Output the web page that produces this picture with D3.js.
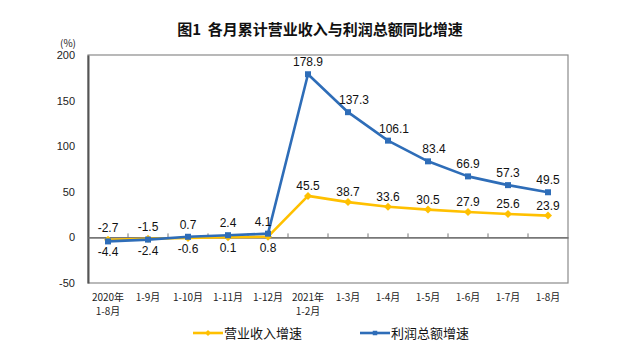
<!DOCTYPE html>
<html>
<head>
<meta charset="utf-8">
<script src="https://cdn.jsdelivr.net/npm/d3@7"></script>
<style>
  html, body { margin: 0; padding: 0; background: #fff; }
  svg { display: block; }
</style>
</head>
<body>
<svg id="chart" width="640" height="348"></svg>
<script>
// Monthly cumulative year-on-year growth (%), Aug 2020 – Aug 2021
const categories = [
  ["2020年", "1-8月"], ["1-9月"], ["1-10月"], ["1-11月"], ["1-12月"],
  ["2021年", "1-2月"], ["1-3月"], ["1-4月"], ["1-5月"], ["1-6月"], ["1-7月"], ["1-8月"]
];
const revenueGrowth = [-2.7, -1.5, -0.6, 0.1, 0.8, 45.5, 38.7, 33.6, 30.5, 27.9, 25.6, 23.9];
const profitGrowth  = [-4.4, -2.4, 0.7, 2.4, 4.1, 178.9, 137.3, 106.1, 83.4, 66.9, 57.3, 49.5];
const yTicks = [-50, 0, 50, 100, 150, 200];

const series = [
  { name: "营业收入增速", values: revenueGrowth, color: "#FFC000", marker: "diamond" },
  { name: "利润总额增速", values: profitGrowth,  color: "#2E6DB8", marker: "square" }
];

// plain hyphen-minus for negative numbers
const fmt1 = v => v.toFixed(1);

const svg = d3.select("#chart");
const plot = { left: 88, right: 568, top: 55, bottom: 283 };

const x = d3.scaleBand()
  .domain(d3.range(categories.length))
  .range([plot.left, plot.right]);
const y = d3.scaleLinear().domain([-50, 200]).range([plot.bottom, plot.top]);
const cx = i => x(i) + x.bandwidth() / 2;

// Title
svg.append("text")
  .attr("x", 320).attr("y", 35)
  .attr("text-anchor", "middle")
  .attr("font-family", "'Noto Sans CJK SC', sans-serif")
  .attr("font-size", 15).attr("font-weight", "bold")
  .attr("fill", "#111")
  .attr("xml:space", "preserve")
  .text("图1  各月累计营业收入与利润总额同比增速");

// Unit label
svg.append("text")
  .attr("x", 68).attr("y", 47)
  .attr("text-anchor", "middle")
  .attr("font-family", "'Noto Sans CJK SC', sans-serif")
  .attr("font-size", 10).attr("fill", "#222")
  .text("(%)");

// Plot frame
svg.append("rect")
  .attr("x", plot.left).attr("y", plot.top)
  .attr("width", plot.right - plot.left).attr("height", plot.bottom - plot.top)
  .attr("fill", "none").attr("stroke", "#8a8a8a").attr("stroke-width", 1.2);

// Y axis
const yAxis = d3.axisLeft(y).tickValues(yTicks).tickSize(0).tickPadding(13)
  .tickFormat(d => String(d));
const yG = svg.append("g").attr("transform", `translate(${plot.left},0)`).call(yAxis);
yG.select(".domain").attr("stroke", "#555").attr("stroke-width", 2);
yG.selectAll("text")
  .attr("font-family", "'Liberation Sans', Arial, sans-serif")
  .attr("font-size", 11).attr("fill", "#222");

// Zero line with category boundary ticks
const zeroAxis = d3.axisBottom(x).tickSize(0).tickFormat("");
const zG = svg.append("g").attr("transform", `translate(0,${y(0)})`).call(zeroAxis);
zG.select(".domain").attr("stroke", "#777").attr("stroke-width", 1.6);
zG.selectAll(".tick").remove();
zG.selectAll("line.bound")
  .data(d3.range(1, categories.length))
  .join("line")
  .attr("class", "bound")
  .attr("x1", i => x(i)).attr("x2", i => x(i))
  .attr("y1", 0).attr("y2", -4)
  .attr("stroke", "#777").attr("stroke-width", 1);

// Category labels
const xl = svg.append("g")
  .attr("font-family", "'Noto Sans CJK SC', sans-serif")
  .attr("font-size", 10).attr("fill", "#222")
  .attr("text-anchor", "middle");
categories.forEach((lines, i) => {
  lines.forEach((t, k) => {
    xl.append("text").attr("x", cx(i)).attr("y", 301 + k * 14).text(t);
  });
});

// Markers
function drawMarker(g, type, color, px, py, r) {
  if (type === "diamond") {
    g.append("path")
      .attr("d", `M${px},${py - r}L${px + r},${py}L${px},${py + r}L${px - r},${py}Z`)
      .attr("fill", color);
  } else {
    const h = r * 0.75;
    g.append("rect")
      .attr("x", px - h).attr("y", py - h).attr("width", 2 * h).attr("height", 2 * h)
      .attr("fill", color);
  }
}

const line = d3.line().x((d, i) => cx(i)).y(d => y(d));

series.forEach(s => {
  const g = svg.append("g");
  g.append("path")
    .datum(s.values)
    .attr("d", line)
    .attr("fill", "none")
    .attr("stroke", s.color)
    .attr("stroke-width", 2.6)
    .attr("stroke-linejoin", "round");
  s.values.forEach((v, i) => drawMarker(g, s.marker, s.color, cx(i), y(v), 4));
});

// Value labels: where the two series run close together, the higher one
// is labelled above and the lower one below. Labels next to a steep
// segment are nudged sideways, away from the line.
const labels = svg.append("g")
  .attr("font-family", "'Liberation Sans', Arial, sans-serif")
  .attr("font-size", 12).attr("fill", "#111")
  .attr("text-anchor", "middle");
series.forEach((s, si) => {
  const vals = s.values;
  const other = series[1 - si].values;
  vals.forEach((v, i) => {
    const close = Math.abs(v - other[i]) < 10;
    const below = close && v < other[i];
    const dy = below ? 15 : (si === 0 && !close ? -6 : -8);
    let dx = 0;
    if (!below) {
      if (i < vals.length - 1 && vals[i + 1] - v > 20) dx = -5;
      else if (i > 0 && vals[i - 1] - v > 20) dx = 6;
    }
    labels.append("text")
      .attr("x", cx(i) + dx)
      .attr("y", y(v) + dy)
      .text(fmt1(v));
  });
});

// Legend
const legend = svg.append("g")
  .attr("font-family", "'Noto Sans CJK SC', sans-serif")
  .attr("font-size", 13).attr("fill", "#111");
const legendX = [193, 360];
series.forEach((s, i) => {
  const lx = legendX[i], ly = 333;
  legend.append("line")
    .attr("x1", lx).attr("x2", lx + 30)
    .attr("y1", ly).attr("y2", ly)
    .attr("stroke", s.color).attr("stroke-width", 2.6);
  drawMarker(legend, s.marker, s.color, lx + 15, ly, 3);
  legend.append("text")
    .attr("x", lx + 31).attr("y", ly + 5)
    .text(s.name);
});
</script>
</body>
</html>
